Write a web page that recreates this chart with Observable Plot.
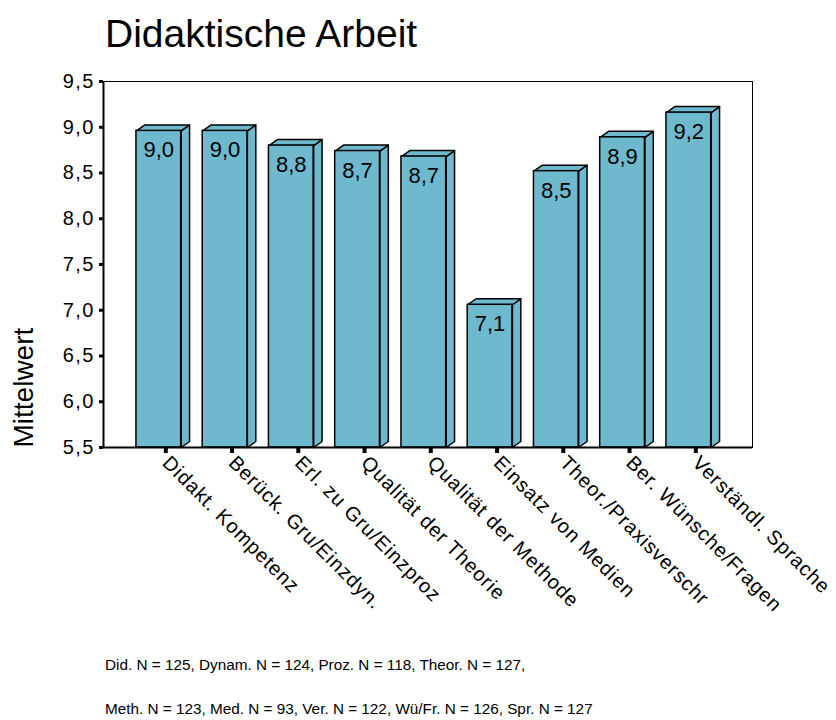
<!DOCTYPE html>
<html><head><meta charset="utf-8">
<script src="https://cdn.jsdelivr.net/npm/d3@7"></script>
<script src="https://cdn.jsdelivr.net/npm/@observablehq/plot@0.6"></script>
<style>
body{margin:0;background:#fff;font-family:"Liberation Sans",Arial,sans-serif;color:#000;}
#title{height:60px;box-sizing:border-box;padding:14px 0 0 105px;font-size:39px;line-height:39px;white-space:nowrap;}
#chart svg{overflow:visible;}
#chart g[aria-label="y-axis tick label"]{letter-spacing:1.5px;}
#chart g[aria-label="x-axis tick label"]{letter-spacing:0.9px;}
#note{padding-left:105px;font-size:15.3px;line-height:44px;white-space:nowrap;}
</style></head><body>
<div id="title"></div>
<div id="chart"></div>
<div id="note"></div>
<script>
const title = "Didaktische Arbeit";
const categories = ["Didakt. Kompetenz", "Berück. Gru/Einzdyn.", "Erl. zu Gru/Einzproz", "Qualität der Theorie", "Qualität der Methode", "Einsatz von Medien", "Theor./Praxisverschr", "Ber. Wünsche/Fragen", "Verständl. Sprache"];
const values = [8.96, 8.96, 8.80, 8.74, 8.68, 7.06, 8.52, 8.89, 9.16];
const yTicks = [5.5, 6.0, 6.5, 7.0, 7.5, 8.0, 8.5, 9.0, 9.5];
const yLabel = "Mittelwert";
const noteLines = ["Did. N = 125, Dynam. N = 124, Proz. N = 118, Theor. N = 127,", "Meth. N = 123, Med. N = 93, Ver. N = 122, Wü/Fr. N = 126, Spr. N = 127"];

document.getElementById("title").textContent = title;
const note = document.getElementById("note");
noteLines.forEach(t => { const d = document.createElement("div"); d.textContent = t; note.appendChild(d); });

const fmt = v => v.toFixed(1).replace(".", ",");
const W = 836, H = 583, mL = 103, mR = 84, mT = 21, mB = 196;
const step = 66.25, firstCenter = 158.3;
const xDomain = [(mL - firstCenter) / step, (W - mR - firstCenter) / step];
const half = 0.3375;
const depthX = 8.4 / step, depthY = 6 / 91.5;
const base = 5.5;
const color = "#6fb9cf";

const bars = categories.map((c, i) => ({i, c, v: values[i]}));
const faces = [];
bars.forEach(b => {
  const x1 = b.i - half, x2 = b.i + half;
  [[x2, base], [x2 + depthX, base + depthY], [x2 + depthX, b.v + depthY], [x2, b.v], [x2, base]]
    .forEach(([x, y]) => faces.push({x, y, z: "s" + b.i}));
  [[x1, b.v], [x1 + depthX, b.v + depthY], [x2 + depthX, b.v + depthY], [x2, b.v], [x1, b.v]]
    .forEach(([x, y]) => faces.push({x, y, z: "t" + b.i}));
});

const chart = Plot.plot({
  width: W, height: H, marginLeft: mL, marginRight: mR, marginTop: mT, marginBottom: mB,
  style: {fontFamily: "Liberation Sans, Arial, sans-serif", color: "black", background: "white", overflow: "visible"},
  x: {type: "linear", domain: xDomain},
  y: {domain: [5.5, 9.5]},
  marks: [
    Plot.frame({stroke: "black", strokeWidth: 1}),
    Plot.line(faces, {x: "x", y: "y", z: "z", fill: color, stroke: "black", strokeWidth: 1.5, strokeLinejoin: "round"}),
    Plot.rect(bars, {x1: d => d.i - half, x2: d => d.i + half, y1: base, y2: "v", fill: color, stroke: "black", strokeWidth: 1.5}),
    Plot.text(bars, {x: "i", y: "v", text: d => fmt(d.v), dy: 19.5, fontSize: 22, lineAnchor: "middle"}),
    Plot.ruleY([base], {stroke: "black", strokeWidth: 2}),
    Plot.ruleX([xDomain[0]], {stroke: "black", strokeWidth: 2}),
    Plot.axisY({ticks: yTicks, tickFormat: fmt, tickSize: 4, tickPadding: 4.5, strokeWidth: 3, fontSize: 20, label: null}),
    Plot.axisX({ticks: categories.map((c, i) => i), tickFormat: i => categories[i], tickRotate: 45, tickSize: 6, strokeWidth: 4, tickPadding: 6, dx: 7, fontSize: 20, label: null}),
    Plot.text([yLabel], {text: d => d, frameAnchor: "bottom-left", rotate: -90, textAnchor: "start", lineAnchor: "middle", dx: -79, fontSize: 28})
  ]
});
document.getElementById("chart").appendChild(chart);
</script>
</body></html>
